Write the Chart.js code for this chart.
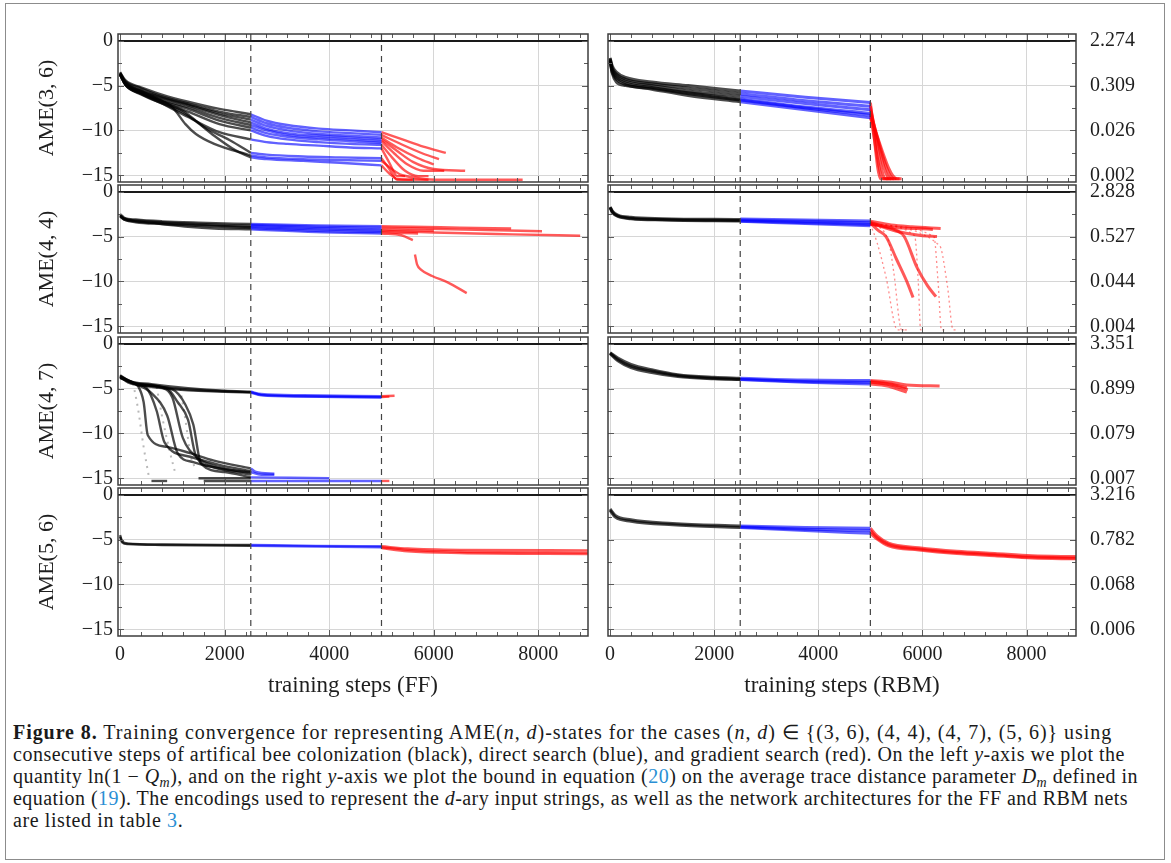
<!DOCTYPE html>
<html><head><meta charset="utf-8">
<script src="https://cdn.jsdelivr.net/npm/chart.js@4.4.1/dist/chart.umd.min.js"></script>
<style>
html,body{margin:0;padding:0;background:#fff;}
body{width:1171px;height:863px;position:relative;overflow:hidden;}
#frame{position:absolute;left:5px;top:3px;width:1160px;height:857px;border:1.5px solid #8c8c8c;box-sizing:border-box;}
canvas{position:absolute;}
#caption{position:absolute;left:13px;top:721px;font-family:'Liberation Serif',serif;font-size:20px;line-height:22px;color:#1a1a1a;white-space:nowrap;}
#caption .ln{display:block;height:22px;}
#caption a{color:#2a8fd4;text-decoration:none;}
#caption sub{font-size:70%;vertical-align:baseline;position:relative;top:4px;line-height:0;}
</style></head>
<body>
<div id="frame"></div>
<div id="caption">
<span class="ln"><b>Figure 8.</b> Training convergence for representing AME(<i>n</i>, <i>d</i>)-states for the cases (<i>n</i>, <i>d</i>) ∈ {(3, 6), (4, 4), (4, 7), (5, 6)} using</span>
<span class="ln">consecutive steps of artifical bee colonization (black), direct search (blue), and gradient search (red). On the left <i>y</i>-axis we plot the</span>
<span class="ln">quantity ln(1 − <i>Q<sub>m</sub></i>), and on the right <i>y</i>-axis we plot the bound in equation (<a>20</a>) on the average trace distance parameter <i>D<sub>m</sub></i> defined in</span>
<span class="ln">equation (<a>19</a>). The encodings used to represent the <i>d</i>-ary input strings, as well as the network architectures for the FF and RBM nets</span>
<span class="ln">are listed in table <a>3</a>.</span>
</div>
<script>
// ---------- axis / label data ----------
const stepTicks = [0, 2000, 4000, 6000, 8000];
const stepMinorTicks = [400, 800, 1200, 1600, 2400, 2800, 3200, 3600, 4400, 4800, 5200, 5600, 6400, 6800, 7200, 7600, 8400, 8800];
const lnTicks = [-15, -10, -5, 0];
const lnMinorTicks = [-12.5, -7.5, -2.5];
const phaseBoundaries = [2500, 5000];
const panelTitles = ['AME(3, 6)', 'AME(4, 4)', 'AME(4, 7)', 'AME(5, 6)'];
const xTitles = ['training steps (FF)', 'training steps (RBM)'];
// right-axis labels (bound on D_m), in the order of lnTicks
const bound36 = ['0.002', '0.026', '0.309', '2.274'];
const bound44 = ['0.004', '0.044', '0.527', '2.828'];
const bound47 = ['0.007', '0.079', '0.899', '3.351'];
const bound56 = ['0.006', '0.068', '0.782', '3.216'];

// ---------- AME(3,6) FF ----------
const ff36Black = [
 [[0,-3.5],[100,-4.4],[400,-5.2],[800,-6.0],[1300,-6.8],[1900,-7.6],[2500,-8.2]],
 [[0,-3.6],[100,-4.5],[400,-5.3],[800,-6.2],[1300,-7.0],[1900,-7.9],[2500,-8.5]],
 [[0,-3.6],[100,-4.6],[400,-5.5],[800,-6.3],[1300,-7.1],[1900,-8.1],[2500,-8.8]],
 [[0,-3.7],[100,-4.7],[400,-5.6],[800,-6.4],[1300,-7.2],[1900,-8.3],[2500,-9.1]],
 [[0,-3.7],[100,-4.7],[400,-5.6],[800,-6.6],[1300,-7.4],[1900,-8.6],[2500,-9.4]],
 [[0,-3.8],[100,-4.8],[400,-5.7],[800,-6.7],[1300,-7.6],[1900,-8.9],[2500,-9.7]],
 [[0,-3.8],[100,-4.8],[400,-5.8],[800,-6.8],[1300,-7.9],[1900,-9.3],[2500,-10.0]],
 [[0,-3.7],[100,-4.9],[400,-5.9],[800,-7.0],[1300,-8.5],[1900,-10.2],[2500,-11.0]],
 [[0,-3.7],[100,-4.8],[400,-5.8],[800,-6.7],[1000,-7.4],[1250,-9.3],[1450,-10.4],[1800,-11.5],[2500,-12.8]],
 [[0,-3.8],[100,-4.9],[400,-5.9],[800,-6.9],[1200,-7.8],[1600,-9.6],[2100,-11.1],[2500,-12.5]],
 [[0,-3.8],[100,-4.9],[400,-6.0],[800,-7.0],[1200,-8.0],[1500,-9.2],[1800,-10.6],[2200,-12.2],[2500,-13.0]]
];
const ff36Blue = [
 [[2500,-8.2],[2800,-8.9],[3200,-9.4],[3800,-9.8],[4400,-10.0],[5000,-10.2]],
 [[2500,-8.5],[2800,-9.2],[3200,-9.7],[3800,-10.1],[4400,-10.3],[5000,-10.5]],
 [[2500,-8.8],[2800,-9.5],[3200,-10.0],[3800,-10.4],[4400,-10.6],[5000,-10.8]],
 [[2500,-9.1],[2800,-9.8],[3200,-10.3],[3800,-10.6],[4400,-10.8],[5000,-11.0]],
 [[2500,-9.4],[2800,-10.0],[3200,-10.5],[3800,-10.8],[4400,-11.0],[5000,-11.2]],
 [[2500,-9.7],[2800,-10.3],[3200,-10.7],[3800,-11.0],[4400,-11.2],[5000,-11.4]],
 [[2500,-10.0],[2800,-10.6],[3200,-11.0],[3800,-11.3],[4400,-11.5],[5000,-11.6]],
 [[2500,-11.0],[2800,-11.3],[3200,-11.5],[3800,-11.7],[4400,-11.9],[5000,-12.0]],
 [[2500,-12.5],[2800,-12.7],[3500,-12.9],[4200,-13.0],[5000,-13.1]],
 [[2500,-12.8],[2800,-13.0],[3500,-13.2],[4200,-13.3],[5000,-13.4]],
 [[2500,-13.0],[2800,-13.2],[3500,-13.4],[4200,-13.6],[5000,-13.9]]
];
const ff36Red = [
 [[5000,-10.2],[5400,-11.0],[5800,-11.8],[6230,-12.5]],
 [[5000,-10.5],[5400,-11.6],[5800,-12.6],[6100,-13.2]],
 [[5000,-10.8],[5300,-11.9],[5700,-13.1],[6000,-13.8]],
 [[5000,-11.0],[5300,-12.3],[5600,-13.5],[6000,-14.3],[6600,-14.5]],
 [[5000,-11.2],[5250,-12.6],[5500,-13.8],[5800,-14.5],[6200,-14.5]],
 [[5000,-11.6],[5200,-13.0],[5450,-14.5],[5700,-15.1],[5900,-15.1]],
 [[5000,-12.0],[5150,-13.6],[5300,-15.1],[5450,-15.1]],
 [[5000,-13.1],[5150,-14.3],[5300,-15.5],[5600,-15.5]],
 [[5000,-13.9],[5150,-14.8],[5300,-15.4],[5800,-15.5],[5900,-15.5]],
 [[5000,-13.4],[5400,-15.0],[6300,-15.5],[7700,-15.5]]
];
// ---------- AME(3,6) RBM ----------
const rbm36Black = [
 [[0,-1.9],[40,-2.8],[120,-3.5],[300,-4.1],[800,-4.6],[1500,-5.0],[2500,-5.6]],
 [[0,-2.0],[40,-3.0],[120,-3.7],[300,-4.3],[800,-4.8],[1500,-5.3],[2500,-5.9]],
 [[0,-2.1],[40,-3.2],[120,-3.9],[300,-4.5],[800,-5.0],[1500,-5.6],[2500,-6.2]],
 [[0,-2.2],[40,-3.3],[120,-4.1],[300,-4.7],[800,-5.2],[1500,-5.8],[2500,-6.5]],
 [[0,-2.3],[40,-3.5],[120,-4.3],[300,-4.9],[800,-5.4],[1500,-6.1],[2500,-6.8]],
 [[0,-2.2],[40,-3.6],[120,-4.6],[300,-5.0],[800,-5.3],[1500,-5.9],[2500,-6.6]]
];
const rbm36Blue = [
 [[2500,-5.6],[3750,-6.3],[5000,-6.9]],
 [[2500,-5.9],[3750,-6.7],[5000,-7.3]],
 [[2500,-6.2],[3750,-7.0],[5000,-7.7]],
 [[2500,-6.5],[3750,-7.4],[5000,-8.1]],
 [[2500,-6.8],[3750,-7.7],[5000,-8.6]],
 [[2500,-6.6],[3750,-7.5],[5000,-8.3]]
];
const rbm36Red = [
 [[5000,-6.9],[5200,-15.4],[5350,-15.4]],
 [[5000,-7.3],[5300,-15.4],[5450,-15.4]],
 [[5000,-7.7],[5380,-15.4],[5500,-15.4]],
 [[5000,-8.1],[5450,-15.4],[5560,-15.4]],
 [[5000,-8.6],[5520,-15.4],[5600,-15.4]],
 [[5000,-8.3],[5250,-15.4],[5400,-15.4]]
];
// ---------- AME(4,4) FF ----------
const ff44Black = [
 [[0,-2.5],[80,-2.9],[300,-3.1],[800,-3.3],[1500,-3.45],[2500,-3.6]],
 [[0,-2.6],[80,-3.0],[300,-3.2],[800,-3.4],[1500,-3.6],[2500,-3.8]],
 [[0,-2.7],[80,-3.0],[300,-3.3],[800,-3.5],[1500,-3.7],[2500,-3.95]],
 [[0,-2.7],[80,-3.1],[300,-3.3],[800,-3.6],[1300,-3.9],[1800,-4.1],[2500,-4.2]],
 [[0,-2.8],[80,-3.1],[300,-3.4],[800,-3.6],[1500,-3.8],[2500,-4.05]]
];
const ff44Blue = [
 [[2500,-3.6],[3750,-3.75],[5000,-3.85]],
 [[2500,-3.7],[3750,-3.9],[5000,-4.0]],
 [[2500,-3.8],[3750,-4.05],[5000,-4.2]],
 [[2500,-3.95],[3750,-4.2],[5000,-4.35]],
 [[2500,-4.05],[3750,-4.35],[5000,-4.5]],
 [[2500,-4.2],[3750,-4.5],[5000,-4.65]]
];
const ff44Red = [
 [[5000,-3.85],[5600,-3.9],[6500,-4.0],[7480,-4.1]],
 [[5000,-4.0],[5700,-4.1],[6800,-4.25],[8070,-4.4]],
 [[5000,-4.2],[5500,-4.3],[6000,-4.35]],
 [[5000,-4.35],[6000,-4.55],[7500,-4.75],[8800,-4.9]],
 [[5000,-4.5],[5400,-4.6],[5700,-4.65]],
 [[5000,-4.65],[5380,-4.85],[5600,-5.4]],
 [[5640,-7.0],[5680,-8.1],[5760,-8.7],[5970,-9.4],[6265,-10.1],[6630,-11.3]]
];
// ---------- AME(4,4) RBM ----------
const rbm44Black = [
 [[0,-1.7],[50,-2.2],[150,-2.6],[400,-2.85],[1000,-3.0],[2500,-3.1]],
 [[0,-1.75],[50,-2.3],[150,-2.7],[400,-2.95],[1000,-3.1],[2500,-3.2]],
 [[0,-1.8],[50,-2.35],[150,-2.75],[400,-3.0],[1000,-3.15],[2500,-3.25]]
];
const rbm44Blue = [
 [[2500,-3.05],[3750,-3.15],[5000,-3.25]],
 [[2500,-3.15],[3750,-3.3],[5000,-3.45]],
 [[2500,-3.25],[3750,-3.45],[5000,-3.65]],
 [[2500,-3.3],[3750,-3.55],[5000,-3.8]]
];
const rbm44Red = [
 [[5000,-3.3],[5400,-3.7],[5800,-3.9],[6350,-4.1]],
 [[5000,-3.4],[5300,-3.9],[5900,-4.1],[6200,-4.2]],
 [[5000,-3.5],[5500,-4.4],[6000,-4.9],[6280,-5.0]],
 [[5000,-3.5],[5150,-4.3],[5300,-5.0],[5500,-7.5],[5700,-10.0],[5820,-11.8]],
 [[5000,-3.6],[5500,-4.3],[5650,-5.0],[5900,-8.5],[6100,-10.5],[6260,-11.7]]
];
const rbm44RedFaint = [
 [[5000,-3.6],[5130,-5.7],[5300,-9.5],[5520,-15.4],[5650,-15.4]],
 [[5000,-3.5],[5350,-5.5],[5450,-9.0],[5600,-15.4],[5700,-15.4]],
 [[5000,-3.6],[5850,-4.9],[5920,-10.0],[5966,-15.4],[6030,-15.4]],
 [[5000,-3.7],[6220,-5.0],[6300,-10.0],[6366,-15.4],[6420,-15.4]],
 [[5000,-3.7],[6330,-6.0],[6480,-10.5],[6590,-15.4],[6650,-15.4]]
];
// ---------- AME(4,7) FF ----------
const ff47Black = [
 [[0,-3.5],[150,-4.1],[600,-4.5],[1300,-4.95],[2000,-5.25],[2500,-5.35]],
 [[0,-3.6],[150,-4.2],[600,-4.7],[1300,-5.1],[2000,-5.3],[2500,-5.4]],
 [[0,-3.7],[150,-4.3],[600,-4.8],[1300,-5.2],[2000,-5.35],[2500,-5.45]],
 [[0,-3.6],[200,-4.2],[350,-4.8],[450,-6.5],[530,-10.2],[900,-11.5],[1340,-12.2],[1780,-13.0],[2500,-13.9]],
 [[0,-3.7],[250,-4.4],[500,-4.9],[700,-7.5],[850,-11.0],[1340,-12.6],[1900,-13.5],[2500,-14.2]],
 [[0,-3.7],[300,-4.4],[800,-4.9],[1000,-6.0],[1200,-10.5],[1500,-12.8],[2000,-13.9],[2500,-14.4]],
 [[0,-3.8],[300,-4.5],[900,-5.0],[1100,-6.5],[1300,-8.5],[1450,-12.5],[1800,-13.8],[2500,-14.6]],
 [[0,-3.8],[400,-4.6],[1000,-5.1],[1250,-6.8],[1400,-9.0],[1550,-13.4],[2000,-14.3],[2500,-14.9]],
 [[0,-3.7],[300,-4.5],[600,-5.5],[900,-8.0],[1100,-12.2],[1400,-13.2],[2000,-14.0],[2500,-14.3]],
 [[600,-15.3],[900,-15.3]],
 [[1500,-15.0],[2500,-15.0]],
 [[1600,-15.3],[2500,-15.3]]
];
const ff47BlackFaint = [
 [[250,-4.4],[350,-7.5],[450,-11.5],[550,-14.8]],
 [[700,-4.8],[800,-8.0],[950,-12.0],[1050,-14.3]],
 [[1150,-5.0],[1250,-8.5],[1350,-12.5],[1450,-14.0]]
];
const ff47Blue = [
 [[2500,-5.35],[2700,-5.6],[3500,-5.75],[5000,-5.85]],
 [[2500,-5.4],[2700,-5.7],[3500,-5.85],[5000,-5.95]],
 [[2500,-5.45],[2700,-5.75],[3500,-5.9],[5000,-6.0]],
 [[2500,-13.9],[2600,-14.3],[2950,-14.5]],
 [[2500,-14.3],[2700,-14.6],[2950,-14.6]],
 [[2500,-14.9],[4000,-15.0]],
 [[2500,-15.3],[5000,-15.3]]
];
const ff47Red = [
 [[5000,-5.85],[5250,-5.8]],
 [[5000,-5.95],[5150,-5.9]],
 [[5000,-15.3],[5150,-15.3]]
];
// ---------- AME(4,7) RBM ----------
const rbm47Black = [
 [[0,-1.0],[150,-1.6],[400,-2.3],[800,-2.9],[1300,-3.45],[2000,-3.75],[2500,-3.85]],
 [[0,-1.05],[150,-1.75],[400,-2.5],[800,-3.05],[1300,-3.55],[2000,-3.85],[2500,-3.95]],
 [[0,-1.1],[150,-1.9],[400,-2.65],[800,-3.2],[1300,-3.65],[2000,-3.9],[2500,-4.0]]
];
const rbm47Blue = [
 [[2500,-3.85],[3750,-4.05],[5000,-4.1]],
 [[2500,-3.95],[3750,-4.2],[5000,-4.3]],
 [[2500,-4.0],[3750,-4.3],[5000,-4.5]]
];
const rbm47Red = [
 [[5000,-4.1],[5400,-4.3],[5700,-4.6],[6330,-4.7]],
 [[5000,-4.2],[5300,-4.4],[5700,-4.9]],
 [[5000,-4.3],[5400,-4.6],[5720,-5.1]],
 [[5000,-4.5],[5300,-4.7],[5650,-5.3],[5700,-5.4]]
];
// ---------- AME(5,6) FF ----------
const ff56Black = [
 [[0,-4.5],[40,-5.2],[150,-5.45],[800,-5.55],[2500,-5.6]],
 [[0,-4.7],[40,-5.3],[150,-5.5],[800,-5.6],[2500,-5.68]]
];
const ff56Blue = [
 [[2500,-5.6],[3750,-5.7],[5000,-5.75]],
 [[2500,-5.68],[3750,-5.78],[5000,-5.85]]
];
const ff56Red = [
 [[5000,-5.75],[5500,-6.0],[6500,-6.15],[8950,-6.2]],
 [[5000,-5.85],[5500,-6.15],[6500,-6.35],[8950,-6.45]],
 [[5000,-5.95],[5500,-6.3],[6500,-6.5],[8950,-6.6]]
];
// ---------- AME(5,6) RBM ----------
const rbm56Black = [
 [[0,-1.6],[100,-2.3],[400,-2.8],[1200,-3.2],[2500,-3.5]],
 [[0,-1.75],[100,-2.5],[400,-2.95],[1200,-3.35],[2500,-3.65]]
];
const rbm56Blue = [
 [[2500,-3.5],[3750,-3.65],[5000,-3.75]],
 [[2500,-3.6],[3750,-3.85],[5000,-4.0]],
 [[2500,-3.65],[3750,-4.0],[5000,-4.3]]
];
const rbm56Red = [
 [[5000,-3.75],[5130,-4.6],[5350,-5.4],[5930,-5.9],[6660,-6.3],[7390,-6.55],[8110,-6.8],[8950,-6.9]],
 [[5000,-4.0],[5130,-4.8],[5350,-5.55],[5930,-6.05],[6660,-6.45],[7390,-6.7],[8110,-6.95],[8950,-7.05]],
 [[5000,-4.3],[5130,-4.95],[5350,-5.7],[5930,-6.15],[6660,-6.55],[7390,-6.8],[8110,-7.05],[8950,-7.15]]
];

// ---------- rendering ----------
const X_MIN = -40, X_MAX = 8950, Y_MIN = -15.75, Y_MAX = 0.75;
const STYLES = {
  k:  {borderColor: 'rgba(0,0,0,0.7)', borderWidth: 2.4},
  b:  {borderColor: 'rgba(0,0,255,0.62)', borderWidth: 2.4},
  r:  {borderColor: 'rgba(255,0,0,0.65)', borderWidth: 2.4},
  kf: {borderColor: 'rgba(0,0,0,0.28)', borderWidth: 2, borderDash: [2, 5]},
  rf: {borderColor: 'rgba(255,0,0,0.45)', borderWidth: 1.3, borderDash: [2, 3]}
};
const panels = [
  {row:0, col:0, groups:[[ff36Black,'k'],[ff36Blue,'b'],[ff36Red,'r']]},
  {row:0, col:1, labels: bound36, groups:[[rbm36Black,'k'],[rbm36Blue,'b'],[rbm36Red,'r']]},
  {row:1, col:0, groups:[[ff44Black,'k'],[ff44Blue,'b'],[ff44Red,'r']]},
  {row:1, col:1, labels: bound44, groups:[[rbm44Black,'k'],[rbm44Blue,'b'],[rbm44Red,'r'],[rbm44RedFaint,'rf']]},
  {row:2, col:0, groups:[[ff47Black,'k'],[ff47BlackFaint,'kf'],[ff47Blue,'b'],[ff47Red,'r']]},
  {row:2, col:1, labels: bound47, groups:[[rbm47Black,'k'],[rbm47Blue,'b'],[rbm47Red,'r']]},
  {row:3, col:0, groups:[[ff56Black,'k'],[ff56Blue,'b'],[ff56Red,'r']]},
  {row:3, col:1, labels: bound56, groups:[[rbm56Black,'k'],[rbm56Blue,'b'],[rbm56Red,'r']]}
];

Chart.defaults.font.family = "'Liberation Serif', 'DejaVu Serif', serif";
Chart.defaults.color = '#1e1e1e';

const frameTicks = {
  id: 'frameTicks',
  afterDatasetsDraw(chart) {
    const {ctx, chartArea: a, scales: {x, y}} = chart;
    ctx.save();
    ctx.strokeStyle = '#5a5a5a';
    ctx.lineWidth = 1;
    ctx.beginPath();
    const vt = (v, len) => { const p = Math.round(x.getPixelForValue(v)) + 0.5; ctx.moveTo(p, a.top); ctx.lineTo(p, a.top + len); ctx.moveTo(p, a.bottom); ctx.lineTo(p, a.bottom - len); };
    const ht = (v, len) => { const p = Math.round(y.getPixelForValue(v)) + 0.5; ctx.moveTo(a.left, p); ctx.lineTo(a.left + len, p); ctx.moveTo(a.right, p); ctx.lineTo(a.right - len, p); };
    stepTicks.forEach(v => vt(v, 6));
    stepMinorTicks.forEach(v => vt(v, 4));
    lnTicks.forEach(v => ht(v, 6));
    lnMinorTicks.forEach(v => ht(v, 4));
    ctx.stroke();
    ctx.strokeStyle = '#3c3c3c';
    ctx.lineWidth = 1.5;
    ctx.strokeRect(a.left, a.top, a.right - a.left, a.bottom - a.top);
    ctx.restore();
  }
};

const ROW_TOPS = [34, 185, 337, 488];
const PLOT_H = 148;
const PAD_T = 30, PAD_B = 30, XAX_H = 74;
const LEFT_AXIS_W = 118, RIGHT_AXIS_W = 76;

panels.forEach(p => {
  const last = p.row === 3;
  const isLeft = p.col === 0;
  const cv = document.createElement('canvas');
  const cLeft = isLeft ? 0 : 594;
  const cWidth = isLeft ? 590 : (1076 + RIGHT_AXIS_W - 594);
  const cTop = ROW_TOPS[p.row] - PAD_T;
  const cHeight = PAD_T + PLOT_H + (last ? XAX_H : PAD_B);
  cv.width = cWidth; cv.height = cHeight;
  cv.style.left = cLeft + 'px'; cv.style.top = cTop + 'px';
  cv.style.width = cWidth + 'px'; cv.style.height = cHeight + 'px';
  document.body.appendChild(cv);

  const datasets = [];
  p.groups.forEach(([curves, st]) => {
    curves.forEach(c => datasets.push(Object.assign({
      data: c.map(([sx, sy]) => ({x: sx, y: sy})),
      pointRadius: 0, fill: false, cubicInterpolationMode: 'monotone', order: 1
    }, STYLES[st], (!isLeft && st !== 'rf') ? {borderWidth: 3} : {})));
  });
  phaseBoundaries.forEach(b => datasets.push({
    data: [{x: b, y: Y_MAX}, {x: b, y: Y_MIN}],
    borderColor: '#444', borderWidth: 1.2, borderDash: [6, 5], pointRadius: 0, order: -1
  }));

  const yScale = {
    type: 'linear', min: Y_MIN, max: Y_MAX,
    position: isLeft ? 'left' : 'right',
    afterBuildTicks: s => { s.ticks = lnTicks.map(v => ({value: v})); },
    afterFit: s => { s.width = isLeft ? LEFT_AXIS_W : RIGHT_AXIS_W; },
    grid: {
      drawTicks: false,
      color: c => (c.tick && c.tick.value === 0) ? '#1a1a1a' : '#d6d6d6',
      lineWidth: c => (c.tick && c.tick.value === 0) ? 2 : 1
    },
    border: {display: false},
    ticks: {
      font: {size: 20}, padding: isLeft ? 5 : 14,
      callback: isLeft ? (v => v === 0 ? '0' : '\u2212' + Math.abs(v))
                       : (v => p.labels[lnTicks.indexOf(v)])
    },
    title: isLeft ? {display: true, text: panelTitles[p.row], font: {size: 22}, padding: {top: 34, bottom: 0}} : {display: false}
  };
  const xScale = {
    type: 'linear', min: X_MIN, max: X_MAX,
    afterBuildTicks: s => { s.ticks = stepTicks.map(v => ({value: v})); },
    afterFit: s => { s.height = last ? XAX_H : 0; },
    grid: {drawTicks: false, color: '#d6d6d6', lineWidth: 1},
    border: {display: false},
    ticks: {display: last, font: {size: 20}, padding: 7, maxRotation: 0, callback: v => String(v)},
    title: {display: last, text: xTitles[p.col], font: {size: 23}, padding: {top: 0, bottom: 10}}
  };

  new Chart(cv, {
    type: 'line',
    data: {datasets},
    options: {
      responsive: false, animation: false, devicePixelRatio: 1,
      layout: {padding: {top: PAD_T, bottom: last ? 0 : PAD_B, left: isLeft ? 0 : 14, right: isLeft ? 2 : 0}},
      plugins: {legend: {display: false}, tooltip: {enabled: false}},
      elements: {line: {tension: 0}},
      scales: {x: xScale, y: yScale}
    },
    plugins: [frameTicks]
  });
});

// caption: spread each line to the width it has in the figure
const captionRightEdges = [1112, 1125, 1138, 1128];
const lines = document.querySelectorAll('#caption .ln');
let spacings = [];
captionRightEdges.forEach((edge, i) => {
  const el = lines[i];
  el.style.display = 'inline-block';
  const w = el.getBoundingClientRect().width;
  const n = el.textContent.trim().length;
  const ls = (edge - 13 - w) / n;
  spacings.push(ls);
  el.style.letterSpacing = ls.toFixed(3) + 'px';
  el.style.display = 'block';
});
lines[4].style.letterSpacing = (spacings.reduce((a, b) => a + b, 0) / spacings.length).toFixed(3) + 'px';
</script>
</body></html>
